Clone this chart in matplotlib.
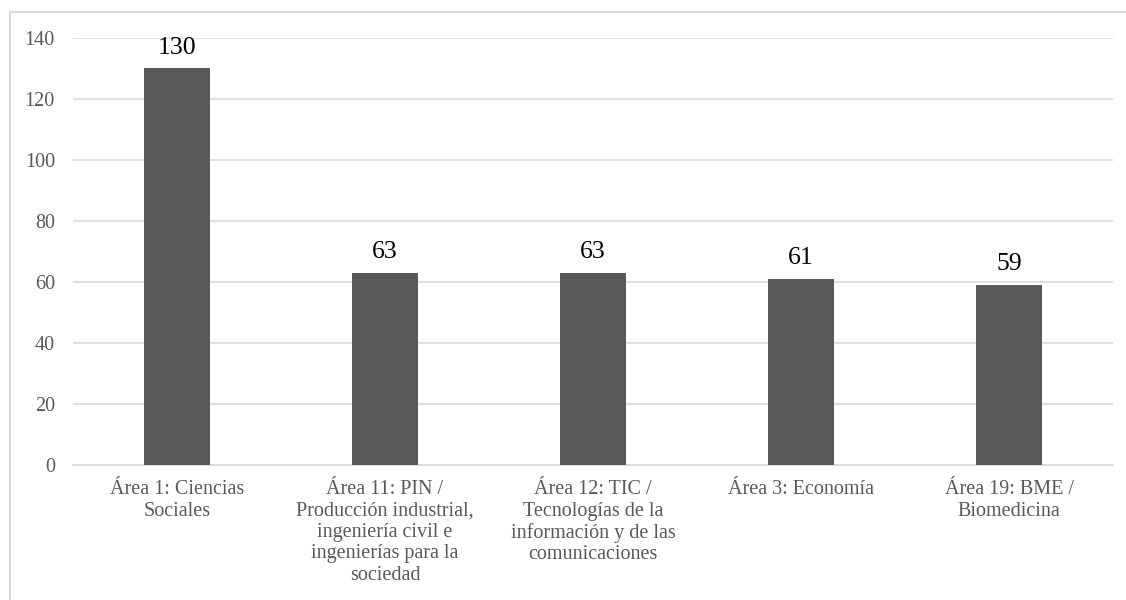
import matplotlib
matplotlib.use("Agg")
import matplotlib.pyplot as plt
from matplotlib.patches import Rectangle

areas = [
    "Área 1: Ciencias\nSociales",
    "Área 11: PIN /\nProducción industrial,\ningeniería civil e\ningenierías para la\nsociedad",
    "Área 12: TIC /\nTecnologías de la\ninformación y de las\ncomunicaciones",
    "Área 3: Economía",
    "Área 19: BME /\nBiomedicina",
]
counts = [130, 63, 63, 61, 59]
yticks = [0, 20, 40, 60, 80, 100, 120, 140]

plt.rcParams["font.family"] = ["Liberation Serif", "DejaVu Serif"]

fig = plt.figure(figsize=(11.26, 6), dpi=100)
ax = fig.add_axes([0.0648, 0.225, 0.9237, 0.7117])

x = range(len(areas))
bars = ax.bar(x, counts, width=0.315, color="#595959", zorder=3)
ax.bar_label(bars, labels=[str(c) for c in counts], padding=7,
             fontsize=18.5, color="black")

ax.set_xlim(-0.5, len(areas) - 0.5)
ax.set_ylim(0, 140)
ax.set_yticks(yticks)
ax.set_xticks(list(x))
ax.set_xticklabels(areas, fontsize=14.5, color="#595959", linespacing=1.17)
ax.tick_params(axis="y", labelsize=14.5, labelcolor="#595959", length=0, pad=13)
ax.tick_params(axis="x", length=0, pad=11)
ax.yaxis.grid(True, color="#d9d9d9", linewidth=1.2, zorder=0)
for s in ["top", "right", "left"]:
    ax.spines[s].set_visible(False)
ax.spines["bottom"].set_color("#d9d9d9")
ax.spines["bottom"].set_linewidth(1.2)

# outer chart frame, cut off at the right and bottom
fig.patches.append(Rectangle((10 / 1126, -0.1), 1.2, 0.1 + 588 / 600,
                             transform=fig.transFigure, fill=False,
                             edgecolor="#d9d9d9", linewidth=1.5))

fig.savefig("out.png", dpi=100)
